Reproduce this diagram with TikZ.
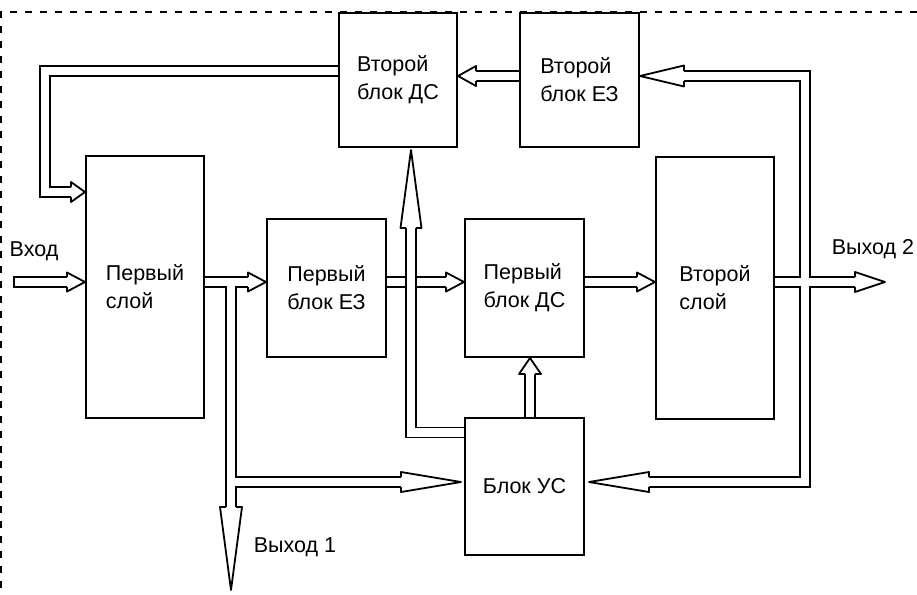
\documentclass[tikz,border=0pt]{standalone}
\usepackage{fontspec}
\setmainfont{Liberation Sans}
\usetikzlibrary{calc}
\newcommand\ahd[4]{\filldraw[headst, shift={(#1)}, rotate=#2] (-#3,5) -- (-#3,#4) -- (0,0) -- (-#3,-#4) -- (-#3,-5);}
\begin{document}
\begin{tikzpicture}[x=1pt,y=-1pt,
  txt/.style={font=\fontsize{21.5}{28}\selectfont, inner sep=0pt},
  box/.style={txt, draw=black, line width=2pt, fill=white, align=left},
  po/.style={line width=11.8pt, draw=black},
  pin/.style={line width=8.2pt, draw=white},
  headst/.style={fill=white, draw=black, line width=1.8pt, line join=round},
  frame/.style={line width=2pt, dash pattern=on 7pt off 8pt}]
\useasboundingbox (0,0) rectangle (917,594);
\fill[white] (0,0) rectangle (917,594);
\draw[frame] (917,12) -- (1,12) -- (1,594);

% boxes (placed first for anchors; redrawn on top later)
\path
  (398,80)    node[box, minimum width=118pt, minimum height=134pt] (dc2) {Второй\\блок ДС}
  (579.5,80)  node[box, minimum width=119pt, minimum height=134pt] (ez2) {Второй\\блок ЕЗ}
  (145,287)   node[box, minimum width=118pt, minimum height=262pt] (sl1) {Первый\\слой}
  (326.5,288) node[box, minimum width=119pt, minimum height=138pt] (ez1) {Первый\\блок ЕЗ}
  (524.5,288) node[box, minimum width=119pt, minimum height=138pt] (dc1) {Первый\\блок ДС}
  (715,288)   node[box, minimum width=118pt, minimum height=262pt] (sl2) {Второй\\слой}
  (524.5,486.5) node[box, minimum width=119pt, minimum height=137pt] (us) {Блок УС};

% helper coordinates
\coordinate (r) at (0,282);
\coordinate (rt) at (0,76);
\coordinate (rf) at (0,71);
\coordinate (rf2) at (0,192);
\coordinate (rb) at (0,482);
\coordinate (ru) at (0,432.5);
\coordinate (xj1) at (231,0);
\coordinate (xj2) at (805,0);
\coordinate (xv) at (411,0);
\coordinate (xl) at (45,0);
\coordinate (xu) at (530,0);
\coordinate (in) at (13,282);
\coordinate (out1) at (231,590);
\coordinate (out2) at (885,282);

% input pipe (closed start)
\draw[po] (in) -- ($(sl1.west|-r)+(-18,0)$);
\draw[pin] ($(in)+(1.8,0)$) -- ($(sl1.west|-r)+(-18,0)$);

% left T junction group
\def\gA{(sl1.east|-r) -- ($(ez1.west|-r)+(-18,0)$)
  (xj1|-r) -- ($(out1)+(0,-83)$)
  (xj1|-rb) -- ($(us.west|-rb)+(-63,0)$)}
\draw[po] \gA; \draw[pin] \gA;

% EZ1 -> DC1
\def\gF{(ez1.east|-r) -- ($(dc1.west|-r)+(-18,0)$)}
\draw[po] \gF; \draw[pin] \gF;

% US -> DC2 (crosses on top)
\def\gI{(us.west|-ru) -- (xv|-ru) -- ($(dc2.south-|xv)+(0,80)$)}
\draw[po] \gI; \draw[pin] \gI;

% DC1 -> SL2
\def\gG{(dc1.east|-r) -- ($(sl2.west|-r)+(-18,0)$)}
\draw[po] \gG; \draw[pin] \gG;

% right junction group
\def\gB{(sl2.east|-r) -- ($(out2)+(-30,0)$)
  ($(ez2.east|-rt)+(44,0)$) -- (xj2|-rt) -- (xj2|-rb) -- ($(us.east|-rb)+(64,0)$)}
\draw[po] \gB; \draw[pin] \gB;

% EZ2 -> DC2
\def\gC{(ez2.west|-rt) -- ($(dc2.east|-rt)+(18,0)$)}
\draw[po] \gC; \draw[pin] \gC;

% DC2 -> SL1 feedback
\def\gD{(dc2.west|-rf) -- (xl|-rf) -- (xl|-rf2) -- ($(sl1.west|-rf2)+(-14,0)$)}
\draw[po] \gD; \draw[pin] \gD;

% US -> DC1
\def\gH{(us.north-|xu) -- ($(dc1.south-|xu)+(0,16)$)}
\draw[po] \gH; \draw[pin] \gH;

% arrow heads
\ahd{sl1.west|-r}{0}{18}{9.5}
\ahd{ez1.west|-r}{0}{18}{9.5}
\ahd{dc1.west|-r}{0}{18}{9.5}
\ahd{sl2.west|-r}{0}{18}{9.5}
\ahd{out2}{0}{30}{10}
\ahd{out1}{-90}{83}{11}
\ahd{$(us.west|-rb)+(-3,0)$}{0}{60}{10}
\ahd{$(us.east|-rb)+(4,0)$}{180}{60}{10}
\ahd{ez2.east|-rt}{180}{44}{10.5}
\ahd{dc2.east|-rt}{180}{18}{10}
\ahd{sl1.west|-rf2}{0}{14}{10}
\ahd{dc1.south-|xu}{90}{16}{11}
\ahd{$(dc2.south-|xv)+(0,2)$}{90}{78}{10.5}

% boxes on top
\path
  (398,80)    node[box, minimum width=118pt, minimum height=134pt] {Второй\\блок ДС}
  (579.5,80)  node[box, minimum width=119pt, minimum height=134pt] {Второй\\блок ЕЗ}
  (145,287)   node[box, minimum width=118pt, minimum height=262pt] {Первый\\слой}
  (326.5,288) node[box, minimum width=119pt, minimum height=138pt] {Первый\\блок ЕЗ}
  (524.5,288) node[box, minimum width=119pt, minimum height=138pt] {Первый\\блок ДС}
  (715,288)   node[box, minimum width=118pt, minimum height=262pt] {Второй\\слой}
  (524.5,486.5) node[box, minimum width=119pt, minimum height=137pt] {Блок УС};

% labels
\node[txt] (lin) at (34,251) {Вход};
\node[txt] (lout1) at (295,547) {Выход 1};
\node[txt] (lout2) at (873,249) {Выход 2};
\end{tikzpicture}
\end{document}
